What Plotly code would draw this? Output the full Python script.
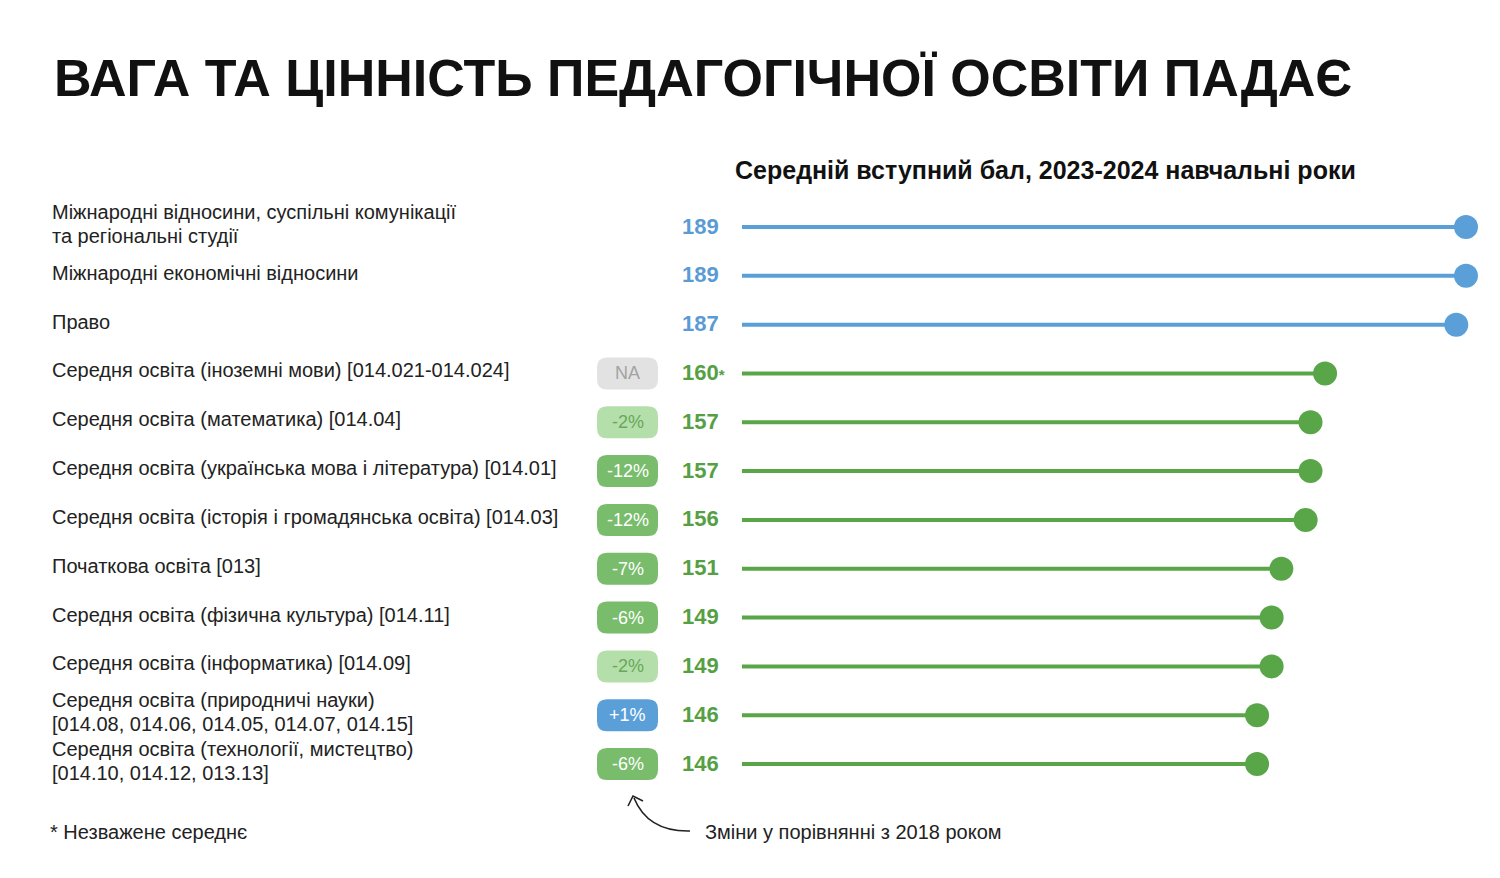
import plotly.graph_objects as go

# ---------------- data ----------------
categories = [
    "Міжнародні відносини, суспільні комунікації<br>та регіональні студії",
    "Міжнародні економічні відносини",
    "Право",
    "Середня освіта (іноземні мови) [014.021-014.024]",
    "Середня освіта (математика) [014.04]",
    "Середня освіта (українська мова і література) [014.01]",
    "Середня освіта (історія і громадянська освіта) [014.03]",
    "Початкова освіта [013]",
    "Середня освіта (фізична культура) [014.11]",
    "Середня освіта (інформатика) [014.09]",
    "Середня освіта (природничі науки)<br>[014.08, 014.06, 014.05, 014.07, 014.15]",
    "Середня освіта (технології, мистецтво)<br>[014.10, 014.12, 013.13]",
]
scores = [189, 189, 187, 160, 157, 157, 156, 151, 149, 149, 146, 146]
score_notes = ["", "", "", "*", "", "", "", "", "", "", "", ""]
changes = [None, None, None, "NA", "-2%", "-12%", "-12%", "-7%", "-6%", "-2%", "+1%", "-6%"]
is_pedagogical = [False, False, False] + [True] * 9

title_text = "ВАГА ТА ЦІННІСТЬ ПЕДАГОГІЧНОЇ ОСВІТИ ПАДАЄ"
subtitle_text = "Середній вступний бал, 2023-2024 навчальні роки"
footnote_text = "* Незважене середнє"
changes_note = "Зміни у порівнянні з 2018 роком"

# ---------------- styles ----------------
W, H = 1500, 878
BLUE = "#5b9fd9"
GREEN = "#59a648"
BLUE_TXT = "#5b9bd5"
GREEN_TXT = "#56a044"
FONT = "Liberation Sans, Arial, sans-serif"
LINE_BASE = 40          # value where each stem begins
X_RANGE = [-112.7, 196.0]
ROW0_PX, ROW_STEP = 227, 48.82
Y_RANGE = [(H - ROW0_PX) / ROW_STEP, -ROW0_PX / ROW_STEP]
LABEL_SIZE = 20


def px_x(px):
    return px / W


def badge_style(ch):
    if ch == "NA":
        return "#e2e2e2", "#a3a3a3"
    if ch.startswith("+"):
        return "#5b9fd9", "#ffffff"
    if abs(float(ch.strip("%"))) < 5:
        return "#b5dfaa", "#67a85b"
    return "#78bc6c", "#ffffff"


fig = go.Figure()

# stems + dots
for i, (v, ped) in enumerate(zip(scores, is_pedagogical)):
    col = GREEN if ped else BLUE
    fig.add_trace(go.Scatter(
        x=[LINE_BASE, v], y=[i, i], mode="lines",
        line=dict(color=col, width=4), hoverinfo="skip", showlegend=False))
    fig.add_trace(go.Scatter(
        x=[v], y=[i], mode="markers",
        marker=dict(color=col, size=24, line=dict(width=0)),
        hovertemplate="%{x}<extra></extra>", showlegend=False))

annotations = []
shapes = []

# row labels (each text line placed separately for tighter leading)
for i, lab in enumerate(categories):
    lines = lab.split("<br>")
    n = len(lines)
    for k, line in enumerate(lines):
        offset = (k - (n - 1) / 2) * 24
        annotations.append(dict(
            x=px_x(50), xref="paper", y=i, yref="y", text=line,
            xanchor="left", yanchor="middle", align="left", showarrow=False,
            yshift=(3 - offset) if n > 1 else 3,
            font=dict(family=FONT, size=LABEL_SIZE, color="#222222")))

# score labels
for i, (v, note, ped) in enumerate(zip(scores, score_notes, is_pedagogical)):
    txt = f"<b>{v}</b>"
    if note:
        txt += f"<b><span style='font-size:15px'>{note}</span></b>"
    annotations.append(dict(
        x=px_x(680), xref="paper", y=i, yref="y", text=txt,
        xanchor="left", yanchor="middle", showarrow=False, yshift=1,
        font=dict(family=FONT, size=22, color=GREEN_TXT if ped else BLUE_TXT)))

# change badges (rounded rectangles)
bx0, bx1 = 597, 658
bh = 32 / ROW_STEP / 2
r_px = 10
rx = r_px / W
ry = r_px / ROW_STEP
for i, ch in enumerate(changes):
    if ch is None:
        continue
    bg, fg = badge_style(ch)
    x0, x1 = bx0 / W, bx1 / W
    y0, y1 = i - bh, i + bh
    path = (f"M {x0+rx},{y0} L {x1-rx},{y0} Q {x1},{y0} {x1},{y0+ry} "
            f"L {x1},{y1-ry} Q {x1},{y1} {x1-rx},{y1} L {x0+rx},{y1} "
            f"Q {x0},{y1} {x0},{y1-ry} L {x0},{y0+ry} Q {x0},{y0} {x0+rx},{y0} Z")
    shapes.append(dict(type="path", path=path, xref="paper", yref="y",
                       fillcolor=bg, line=dict(width=0), layer="below"))
    annotations.append(dict(
        x=(x0 + x1) / 2, xref="paper", y=i, yref="y", text=ch,
        xanchor="center", yanchor="middle", showarrow=False,
        font=dict(family=FONT, size=18, color=fg)))

# title & subtitle
annotations.append(dict(
    x=px_x(52), xref="paper", y=1 - 78 / H, yref="paper", text=f"<b>{title_text}</b>",
    xanchor="left", yanchor="middle", showarrow=False,
    font=dict(family=FONT, size=52, color="#111111")))
annotations.append(dict(
    x=px_x(1045), xref="paper", y=1 - 170 / H, yref="paper", text=f"<b>{subtitle_text}</b>",
    xanchor="center", yanchor="middle", showarrow=False,
    font=dict(family=FONT, size=25, color="#111111")))

# footnotes
annotations.append(dict(
    x=px_x(48), xref="paper", y=1 - 832 / H, yref="paper", text=footnote_text,
    xanchor="left", yanchor="middle", showarrow=False,
    font=dict(family=FONT, size=20, color="#222222")))
annotations.append(dict(
    x=px_x(703), xref="paper", y=1 - 832 / H, yref="paper", text=changes_note,
    xanchor="left", yanchor="middle", showarrow=False,
    font=dict(family=FONT, size=20, color="#222222")))

# curved arrow
def P(x, y):
    return f"{x / W},{1 - y / H}"

shapes.append(dict(type="path", xref="paper", yref="paper",
                   path=f"M {P(690, 831)} Q {P(648, 832)} {P(634, 798)}",
                   line=dict(color="#222222", width=1.6)))
shapes.append(dict(type="path", xref="paper", yref="paper",
                   path=f"M {P(628, 806)} L {P(633, 796)} L {P(643, 801)}",
                   line=dict(color="#222222", width=1.6)))

fig.update_layout(
    width=W, height=H,
    margin=dict(l=0, r=0, t=0, b=0),
    paper_bgcolor="white", plot_bgcolor="white",
    xaxis=dict(range=X_RANGE, visible=False, fixedrange=True),
    yaxis=dict(range=Y_RANGE, visible=False, fixedrange=True),
    annotations=annotations, shapes=shapes, showlegend=False,
)

fig.write_html("out.html")
